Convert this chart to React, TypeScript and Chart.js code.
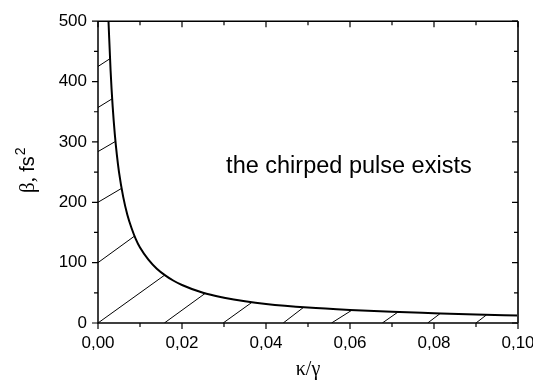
import React, { useEffect, useRef } from "react";
import { Chart, registerables } from "chart.js";
Chart.register(...registerables);

// Boundary curve β(κ/γ)
const curveX = [0.0025, 0.003, 0.0035, 0.004, 0.0045, 0.005, 0.006, 0.007, 0.008, 0.009, 0.01, 0.012, 0.014, 0.016, 0.018, 0.02, 0.025, 0.03, 0.035, 0.04, 0.05, 0.06, 0.07, 0.08, 0.09, 0.1];
const curveY = [500, 418, 358, 313, 278, 250, 209, 179, 157, 139, 125, 105, 90, 79, 70, 63, 50, 42, 36, 31.5, 25.5, 21.5, 18.5, 16.3, 14.2, 12.4];

// Hatch strokes (start on an axis, end on the curve)
const hatchStartX = [0, 0, 0, 0, 0, 0, 0.0158, 0.0298, 0.0441, 0.0556, 0.0677, 0.0785, 0.09];
const hatchStartY = [425, 357, 284, 200, 100, 0, 0, 0, 0, 0, 0, 0, 0];
const hatchEndX = [0.0031, 0.0035, 0.0042, 0.0056, 0.0087, 0.0158, 0.0255, 0.0366, 0.0489, 0.0604, 0.0714, 0.0814, 0.0925];
const hatchEndY = [439, 372, 301, 223, 144, 79, 49, 34, 25.7, 21, 18, 15.3, 13.5];

const xMajorTicks = [0, 0.02, 0.04, 0.06, 0.08, 0.1];
const xMinorTicks = [0.01, 0.03, 0.05, 0.07, 0.09];
const yMajorTicks = [0, 100, 200, 300, 400, 500];
const yMinorTicks = [50, 150, 250, 350, 450];

const annotationText = "the chirped pulse exists";
const annotationX = 0.0305;
const annotationY = 248;
const xTitle = "κ/γ";
const yTitleSymbol = "β, ";
const yTitleUnit = "fs";
const yTitleSup = "2";

const SANS = "'Liberation Sans', Arial, sans-serif";
const SERIF = "'Liberation Serif', 'Times New Roman', serif";

export default function App() {
  const ref = useRef<HTMLCanvasElement>(null);
  useEffect(() => {
    const frame = {
      id: "frame",
      afterDatasetsDraw(chart: any) {
        const ctx = chart.ctx;
        const a = chart.chartArea;
        const xs = chart.scales.x;
        const ys = chart.scales.y;
        ctx.save();
        ctx.strokeStyle = "#000";
        ctx.lineWidth = 1.5;
        ctx.beginPath();
        ctx.moveTo(a.left, a.top);
        ctx.lineTo(a.right, a.top);
        ctx.moveTo(a.left, a.top);
        ctx.lineTo(a.left, a.bottom);
        ctx.lineTo(a.right, a.bottom);
        ctx.stroke();
        ctx.strokeStyle = "#333";
        ctx.lineWidth = 2;
        ctx.beginPath();
        ctx.moveTo(a.right, a.top);
        ctx.lineTo(a.right, a.bottom);
        ctx.stroke();
        ctx.strokeStyle = "#000";
        ctx.lineWidth = 1.2;
        ctx.beginPath();
        const tickX = (v: number, len: number) => {
          const px = xs.getPixelForValue(v);
          ctx.moveTo(px, a.bottom);
          ctx.lineTo(px, a.bottom + len);
          ctx.moveTo(px, a.top);
          ctx.lineTo(px, a.top + len);
        };
        const tickY = (v: number, len: number) => {
          const py = ys.getPixelForValue(v);
          ctx.moveTo(a.left, py);
          ctx.lineTo(a.left - len, py);
          ctx.moveTo(a.right, py);
          ctx.lineTo(a.right - len, py);
        };
        xMajorTicks.forEach((v) => tickX(v, 6));
        xMinorTicks.forEach((v) => tickX(v, 4));
        yMajorTicks.forEach((v) => tickY(v, 6));
        yMinorTicks.forEach((v) => tickY(v, 4));
        ctx.stroke();

        // annotation
        ctx.fillStyle = "#000";
        ctx.font = `23.5px ${SANS}`;
        ctx.textAlign = "left";
        ctx.textBaseline = "alphabetic";
        ctx.fillText(annotationText, xs.getPixelForValue(annotationX), ys.getPixelForValue(annotationY));

        // x title
        ctx.font = `20px ${SERIF}`;
        ctx.textAlign = "center";
        ctx.fillText(xTitle, (a.left + a.right) / 2, 375);

        // y title (rotated, mixed fonts)
        ctx.translate(34, 193);
        ctx.rotate(-Math.PI / 2);
        ctx.textAlign = "left";
        ctx.font = `21px ${SERIF}`;
        ctx.fillText(yTitleSymbol, 0, 0);
        let w = ctx.measureText(yTitleSymbol).width;
        ctx.font = `20px ${SANS}`;
        ctx.fillText(yTitleUnit, w, 0);
        w += ctx.measureText(yTitleUnit).width + 1;
        ctx.font = `14px ${SANS}`;
        ctx.fillText(yTitleSup, w, -9);
        ctx.restore();
      },
    };

    const curve = {
      data: curveX.map((x, i) => ({ x, y: curveY[i] })),
      borderColor: "#000",
      borderWidth: 2,
      showLine: true,
      pointRadius: 0,
      cubicInterpolationMode: "monotone" as const,
    };
    const hatches = hatchStartX.map((x0, i) => ({
      data: [
        { x: x0, y: hatchStartY[i] },
        { x: hatchEndX[i], y: hatchEndY[i] },
      ],
      borderColor: "#000",
      borderWidth: 1,
      showLine: true,
      pointRadius: 0,
    }));

    const chart = new Chart(ref.current as HTMLCanvasElement, {
      type: "scatter",
      data: { datasets: [curve, ...hatches] as any },
      options: {
        responsive: false,
        animation: false,
        events: [],
        layout: { padding: { top: 12, right: 15, left: 0, bottom: 0 } },
        plugins: { legend: { display: false }, tooltip: { enabled: false } },
        scales: {
          x: {
            type: "linear",
            min: 0,
            max: 0.1,
            afterFit: (s: any) => {
              s.height = 69;
              s.paddingLeft = 0;
              s.paddingRight = 0;
            },
            afterBuildTicks: (s: any) => {
              s.ticks = xMajorTicks.map((v) => ({ value: v }));
            },
            grid: { display: false, drawTicks: false },
            border: { display: false },
            ticks: {
              padding: 10,
              maxRotation: 0,
              color: "#000",
              font: { family: SANS, size: 17 },
              callback: (v: any) => Number(v).toFixed(2).replace(".", ","),
            },
          },
          y: {
            type: "linear",
            min: 0,
            max: 500,
            afterFit: (s: any) => {
              s.width = 98;
            },
            afterBuildTicks: (s: any) => {
              s.ticks = yMajorTicks.map((v) => ({ value: v }));
            },
            grid: { display: false, drawTicks: false },
            border: { display: false },
            ticks: {
              padding: 11,
              color: "#000",
              font: { family: SANS, size: 17 },
              callback: (v: any) => String(v),
            },
          },
        },
      },
      plugins: [frame],
    });
    return () => chart.destroy();
  }, []);
  return (
    <div style={{ position: "fixed", left: 0, top: 0, width: 533, height: 392, background: "#fff" }}>
      <canvas ref={ref} width={533} height={392} style={{ display: "block" }} />
    </div>
  );
}
